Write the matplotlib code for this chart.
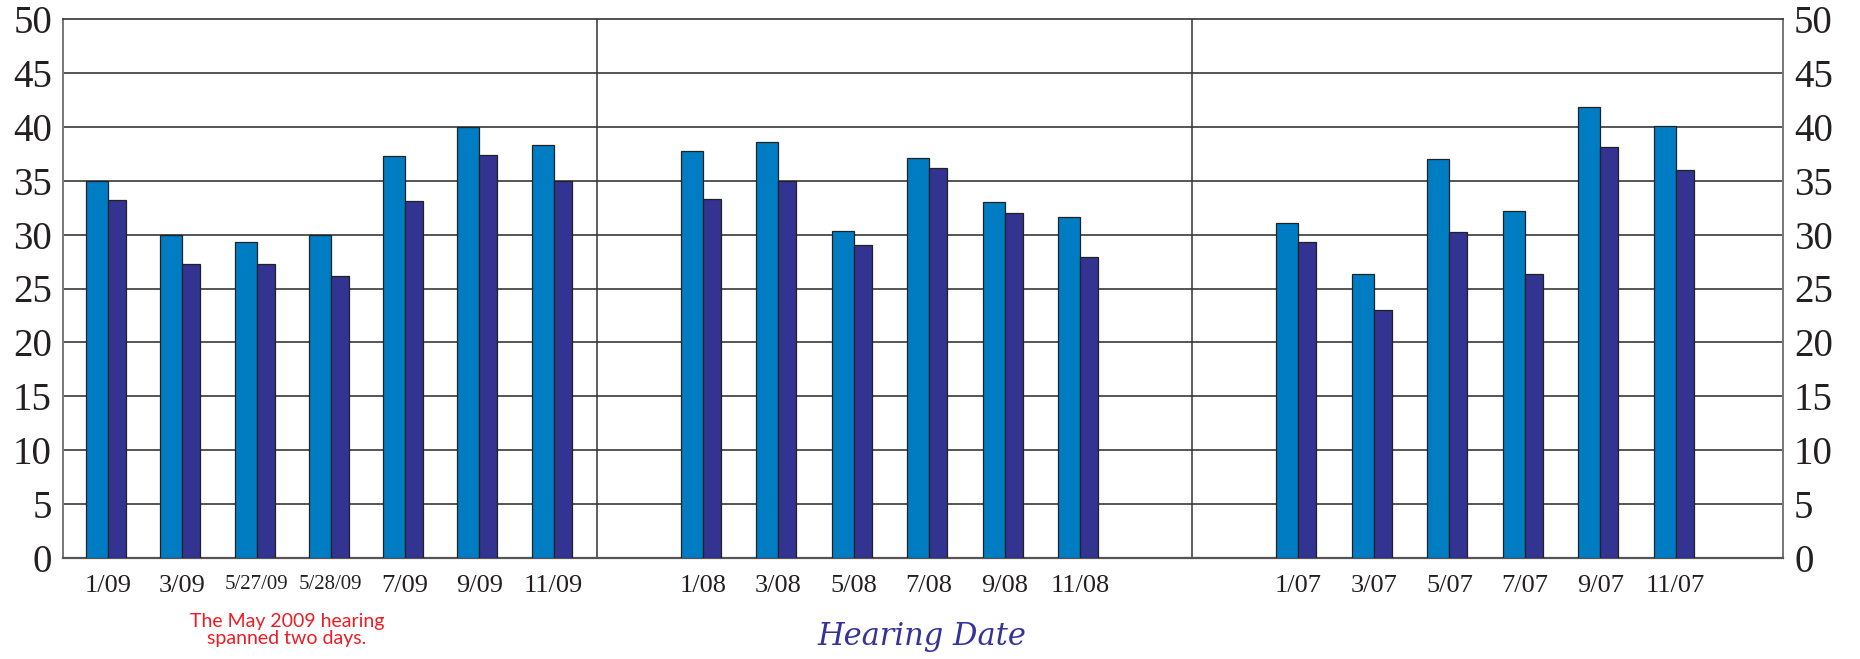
import matplotlib
matplotlib.use("Agg")
import matplotlib.pyplot as plt
import numpy as np

# ---- data ----
labels_2009 = ["1/09", "3/09", "5/27/09", "5/28/09", "7/09", "9/09", "11/09"]
light_2009 = [35.0, 30.0, 29.3, 30.0, 37.3, 40.0, 38.3]
dark_2009 = [33.2, 27.3, 27.3, 26.2, 33.1, 37.4, 35.0]

labels_2008 = ["1/08", "3/08", "5/08", "7/08", "9/08", "11/08"]
light_2008 = [37.8, 38.6, 30.3, 37.1, 33.0, 31.6]
dark_2008 = [33.3, 35.0, 29.0, 36.2, 32.0, 27.9]

labels_2007 = ["1/07", "3/07", "5/07", "7/07", "9/07", "11/07"]
light_2007 = [31.1, 26.3, 37.0, 32.2, 41.8, 40.1]
dark_2007 = [29.3, 23.0, 30.2, 26.3, 38.1, 36.0]

y_ticks = [0, 5, 10, 15, 20, 25, 30, 35, 40, 45, 50]
x_title = "Hearing Date"
note = "The May 2009 hearing\nspanned two days."

# ---- style ----
LIGHT = "#007CC3"
DARK = "#333391"
W, H, DPI = 1860, 659, 100

fig = plt.figure(figsize=(W / DPI, H / DPI), dpi=DPI)
ax = fig.add_axes([63 / W, 1 - 558 / H, (1783 - 63) / W, (558 - 19) / H])

panels = [(0.60, 0.99), (8.53, 1.006), (16.47, 1.006)]
dividers = [7.12, 15.05]
xmax = 22.93
wl, wd = 0.293, 0.24

all_pos, all_labels = [], []
for (start, step), labs, lv, dv in [(panels[0], labels_2009, light_2009, dark_2009),
                                    (panels[1], labels_2008, light_2008, dark_2008),
                                    (panels[2], labels_2007, light_2007, dark_2007)]:
    pos = start + step * np.arange(len(labs))
    ax.bar(pos, lv, width=-wl, align="edge", color=LIGHT, edgecolor="#222222",
           linewidth=0.9, zorder=3)
    ax.bar(pos, dv, width=wd, align="edge", color=DARK, edgecolor="#222222",
           linewidth=0.9, zorder=3)
    all_pos.extend(pos)
    all_labels.extend(labs)

ax.set_xlim(0, xmax)
ax.set_ylim(0, 50)

for d in dividers:
    ax.axvline(d, color="#333333", lw=1.1, zorder=2)

for t in y_ticks[1:-1]:
    ax.axhline(t, color="#555555", lw=1.4, zorder=1)

for s in ["left", "right"]:
    ax.spines[s].set_color("#777777")
    ax.spines[s].set_linewidth(1.4)
ax.spines["top"].set_color("#333333")
ax.spines["top"].set_linewidth(1.2)
ax.spines["bottom"].set_color("#555555")
ax.spines["bottom"].set_linewidth(1.6)

ax.set_yticks(y_ticks)
ax.tick_params(axis="y", length=0, labelsize=28, pad=8,
               left=True, right=True, labelleft=True, labelright=True,
               colors="#231f20")
for lab in ax.get_yticklabels():
    lab.set_family("Liberation Serif")

ax.set_xticks(all_pos)
ax.set_xticklabels(all_labels)
ax.tick_params(axis="x", length=0, pad=12, colors="#231f20")
for lab in ax.get_xticklabels():
    lab.set_family("Liberation Serif")
    lab.set_fontsize(15 if lab.get_text().count("/") == 2 else 19)

fig.text(922 / W, 1 - 637 / H, x_title, ha="center", va="center",
         fontsize=22, style="italic", family="DejaVu Serif", color="#333399")
fig.text(287 / W, 1 - 630 / H, note, ha="center", va="center",
         fontsize=14, family="Lato", color="#ED1C24", linespacing=1.05)

fig.savefig("out.png", dpi=DPI)
